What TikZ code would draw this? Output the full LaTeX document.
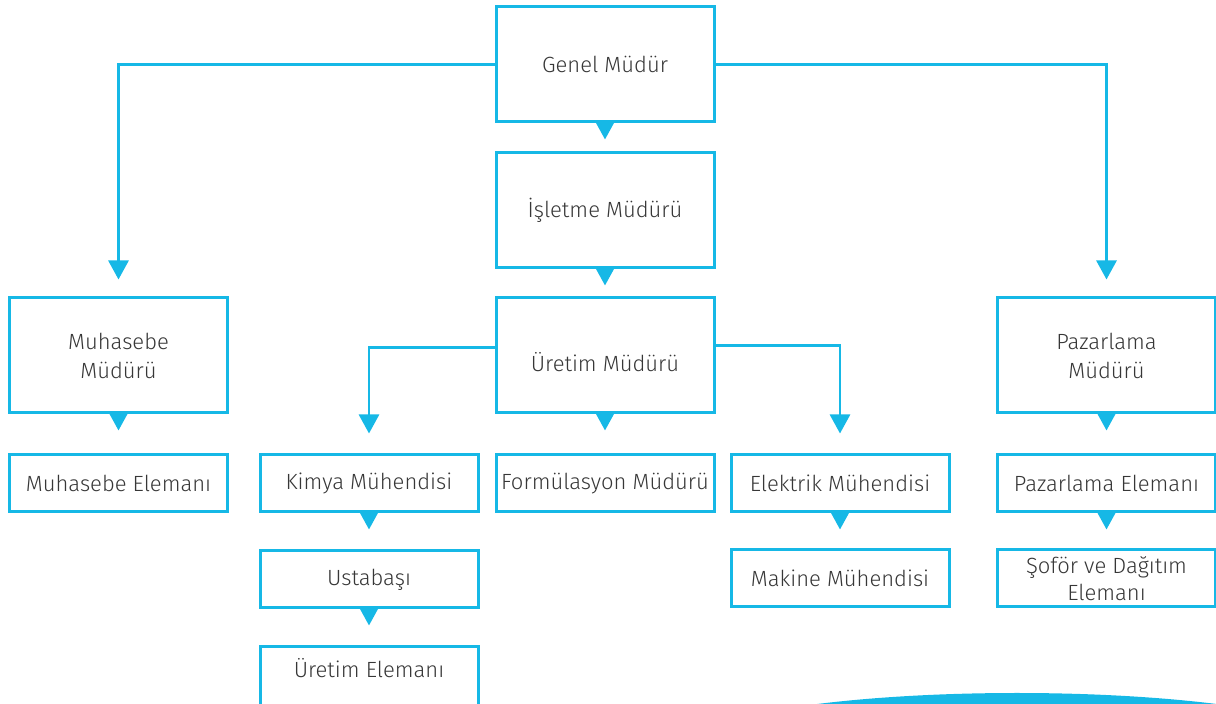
\documentclass[tikz,border=0pt]{standalone}
\usepackage{fontspec}
\setmainfont{Fira Sans}[UprightFont=* Light]
\usepackage{tikz}
\usetikzlibrary{arrows.meta}
\usepackage{xcolor}
\definecolor{brand}{RGB}{22,184,230}
\definecolor{txt}{RGB}{55,55,55}

\begin{document}
\begin{tikzpicture}[x=0.5pt, y=-0.5pt,
    box/.style={draw=brand, line width=1.5pt, fill=white, text=txt, align=center,
      minimum width=109pt, minimum height=28.5pt, inner sep=1pt,
      font=\fontsize{11}{14.5}\selectfont},
    tallbox/.style={box, minimum height=57.5pt},
    link/.style={draw=brand, line width=1.4pt, -{Triangle[length=9.5pt, width=10pt]}},
    drop/.style={draw=brand, line width=1.4pt, -{Triangle[length=9.5pt, width=10pt]}}]
    \useasboundingbox (0, 0) rectangle (1216, 704);

    % Decorative band in the corner
    \fill[brand] (1017, 753) ellipse [x radius=173pt, y radius=30pt];

    % Top of the chart
    \node[tallbox] (genel) at (605, 64.5) {Genel Müdür};
    \node[tallbox] (isletme) at (605, 210.5) {İşletme Müdürü};
    \node[tallbox, text height=16pt] (uretim) at (605, 355.5) {Üretim Müdürü};
    \node[tallbox] (muhasebe) at (118.5, 355.5) {Muhasebe\\Müdürü};
    \node[tallbox] (pazar) at (1106.5, 355.5) {Pazarlama\\Müdürü};

    % Second row
    \node[box] (muhelem) at (118.5, 483.5) {Muhasebe Elemanı};
    \node[box] (kimya) at (369, 483.5) {Kimya Mühendisi};
    \node[box] (formul) at (605, 483.5) {Formülasyon Müdürü};
    \node[box] (elektrik) at (840, 483.5) {Elektrik Mühendisi};
    \node[box] (pazelem) at (1106.5, 483.5) {Pazarlama Elemanı};

    % Lower rows
    \node[box] (usta) at (369, 579.5) {Ustabaşı};
    \node[box] (makine) at (840, 578.5) {Makine Mühendisi};
    \node[box, font=\fontsize{11}{13.5}\selectfont] (sofor) at (1106.5, 578.5) {Şoför ve Dağıtım\\Elemanı};
    \node[box, minimum height=33pt, text depth=12pt] (uretel) at (369, 680) {Üretim Elemanı};

    % Side branches
    \draw[link, shorten >=8.5pt] (genel.west) -| (muhasebe.north);
    \draw[link, shorten >=8.5pt] (genel.east) -| (pazar.north);
    \draw[link, shorten >=10pt] ([yshift=4pt]uretim.west) -| (kimya.north);
    \draw[link, shorten >=10pt] ([yshift=5pt]uretim.east) -| (elektrik.north);

    % Straight drops
    \draw[drop, shorten >=6pt] (genel.south) -- (isletme.north);
    \draw[drop, shorten >=5.5pt] (isletme.south) -- (uretim.north);
    \draw[drop, shorten >=11.5pt] (uretim.south) -- (formul.north);
    \draw[drop, shorten >=11.5pt] (muhasebe.south) -- (muhelem.north);
    \draw[drop, shorten >=11.5pt] (pazar.south) -- (pazelem.north);
    \draw[drop, shorten >=9.5pt] (pazelem.south) -- (sofor.north);
    \draw[drop, shorten >=10pt] (kimya.south) -- (usta.north);
    \draw[drop, shorten >=10pt] (usta.south) -- (uretel.north);
    \draw[drop, shorten >=9.5pt] (elektrik.south) -- (makine.north);
\end{tikzpicture}
\end{document}
